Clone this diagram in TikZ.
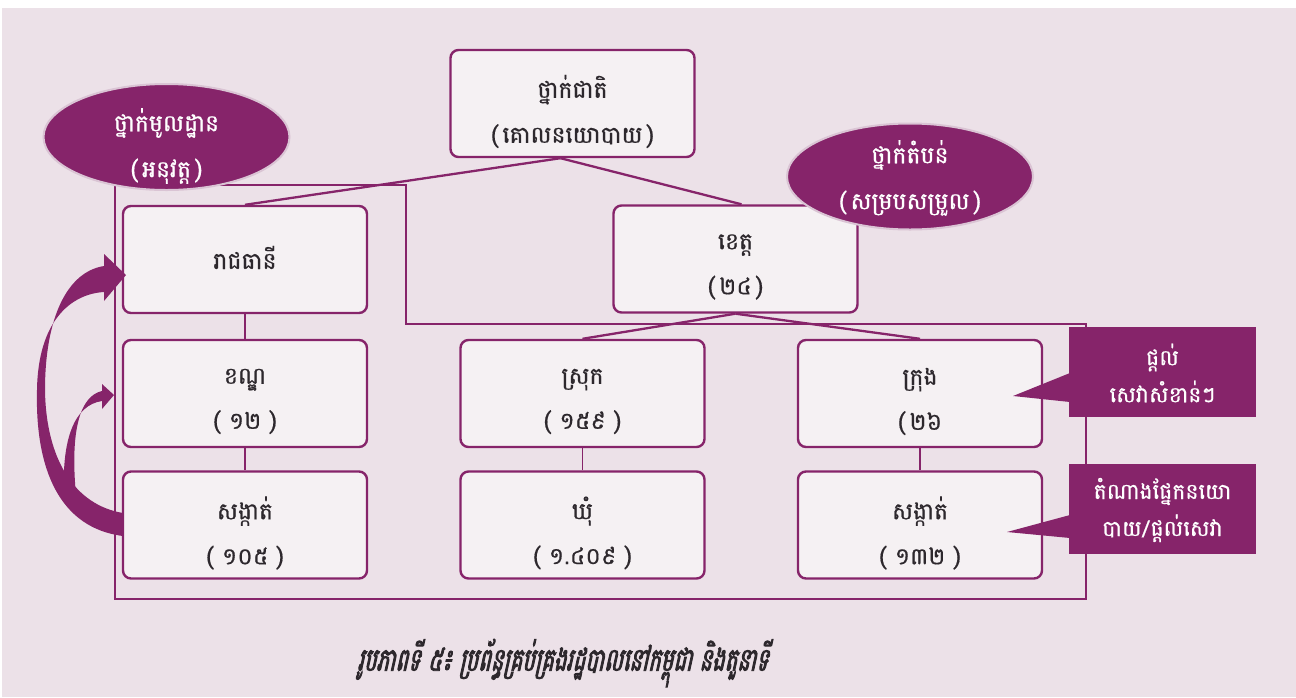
\documentclass[tikz,border=0pt]{standalone}
\usepackage{fontspec}
\newfontfamily\khm[Script=Khmer,FakeBold=0.6]{Battambang}
\newfontfamily\khmcap[Script=Khmer,FakeSlant=0.22,FakeBold=2.8,FakeStretch=0.66]{Battambang}
\usetikzlibrary{shapes.geometric}
\definecolor{bg}{RGB}{236,225,232}
\definecolor{pur}{RGB}{134,36,106}
\definecolor{boxfill}{RGB}{245,241,243}
\definecolor{ellrim}{RGB}{218,196,212}
\definecolor{txt}{RGB}{45,40,45}
\tikzset{
  orgbox/.style={draw=pur, line width=2.4pt, fill=boxfill, rounded corners=8pt,
    minimum width=244pt, minimum height=107pt, inner sep=0pt},
  boxtext/.style={align=center, inner sep=0pt, text=txt, font={\khm\fontsize{23.5}{45}\selectfont}},
  conn/.style={draw=pur, line width=2.3pt},
  thinconn/.style={draw=pur, line width=1.6pt},
  frameline/.style={draw=pur, line width=2pt},
  lvl/.style={ellipse, fill=pur, draw=ellrim, line width=2pt, minimum width=246pt, minimum height=106pt, inner sep=0pt},
  lvltext/.style={text=white, align=center, inner sep=0pt, font={\khm\fontsize{23.5}{46}\selectfont}},
  calloutbox/.style={fill=pur, minimum width=187pt, minimum height=90pt, inner sep=0pt},
  callouttext/.style={text=white, align=center, inner sep=0pt, font={\khm\fontsize{22}{37}\selectfont}},
}
\begin{document}
\begin{tikzpicture}[x=1pt,y=-1pt]
\useasboundingbox (0,0) rectangle (1296,697);
\fill[white] (0,0) rectangle (1296,697);
\fill[bg] (2,8) rectangle (1296,697);
% frame of the local level
\draw[frameline] (115,185) -- (406,185) -- (406,324) -- (1086,324) -- (1086,599) -- (115,599) -- cycle;
% boxes
\node[orgbox] (nat) at (572.5,103.5) {};
\node[orgbox] (raj) at (245,259.5) {};
\node[orgbox] (khet) at (735.5,259) {};
\node[orgbox] (khan) at (245,393.5) {};
\node[orgbox] (sangL) at (245,525) {};
\node[orgbox] (srok) at (582.5,393.5) {};
\node[orgbox] (khum) at (582.5,525) {};
\node[orgbox] (krong) at (920,393.5) {};
\node[orgbox] (sangR) at (920,525) {};
% box texts
\node[boxtext] (natt) at ([yshift=-8pt]nat.center) {ថ្នាក់ជាតិ\\(\,គោលនយោបាយ\,)};
\node[boxtext] (rajt) at ([yshift=2pt]raj.center) {រាជធានី};
\node[boxtext] (khett) at ([yshift=-8pt]khet.center) {ខេត្ត\\(\,២៤\,)};
\node[boxtext] (khant) at ([yshift=-8pt]khan.center) {ខណ្ឌ\\( ១២ )};
\node[boxtext] (sangLt) at ([yshift=-8pt]sangL.center) {សង្កាត់\\( ១០៥ )};
\node[boxtext] (srokt) at ([yshift=-8pt]srok.center) {ស្រុក\\( ១៥៩ )};
\node[boxtext] (khumt) at ([yshift=-8pt]khum.center) {ឃុំ\\( ១.៤០៩ )};
\node[boxtext] (krongt) at ([yshift=-8pt]krong.center) {ក្រុង\\(\,២៦};
\node[boxtext] (sangRt) at ([yshift=-8pt]sangR.center) {សង្កាត់\\( ១៣២ )};
% connectors
\draw[conn] ([xshift=-12pt]nat.south) -- (raj.north);
\draw[conn] ([xshift=-12pt]nat.south) -- ([xshift=6pt]khet.north);
\draw[conn] (khet.south) -- (srok.north);
\draw[conn] (khet.south) -- (krong.north);
\draw[thinconn] (raj.south) -- (khan.north);
\draw[thinconn] (khan.south) -- (sangL.north);
\draw[thinconn] (srok.south) -- (khum.north);
\draw[thinconn] (krong.south) -- (sangR.north);
% curved arrows
\fill[pur] (123,536) .. controls (60,528) and (35,470) .. (37,390)
  .. controls (38,322) and (70,294) .. (104,292) -- (104,301) -- (126,275) -- (104,254) -- (104,266)
  .. controls (66,272) and (45,320) .. (45,390)
  .. controls (46,460) and (75,505) .. (123,513) -- cycle;
\fill[pur] (64,492) .. controls (62,440) and (74,405) .. (102,401) -- (102,409) -- (114,395) -- (102,384) -- (102,391)
  .. controls (80,396) and (70,430) .. (76,495) -- cycle;
% level ellipses
\node[lvl] (local) at (166.5,137) {};
\node[lvltext] (localt) at (166.5,146) {ថ្នាក់មូលដ្ឋាន\\(\,អនុវត្ត\,)};
\node[lvl] (region) at (910,176.5) {};
\node[lvltext] (regiont) at (910,178) {ថ្នាក់តំបន់\\(\,សម្របសម្រួល\,)};
% callouts
\node[calloutbox] (c1) at (1162.5,372) {};
\coordinate (c1tip) at (1013,396);
\fill[pur] (1070,373) -- (c1tip) -- (1070,402) -- cycle;
\node[callouttext] (c1t) at ([yshift=-1pt]c1.center) {ផ្តល់\\សេវាសំខាន់ៗ};
\node[calloutbox] (c2) at (1162.5,509) {};
\coordinate (c2tip) at (1007,532);
\fill[pur] (1070,515) -- (c2tip) -- (1070,538) -- cycle;
\node[callouttext] (c2t) at ([yshift=-1pt]c2.center) {តំណាងផ្នែកនយោ\\បាយ/ផ្តល់សេវា};
% caption
\node[text=txt, inner sep=0pt, font={\khmcap\fontsize{32}{36}\selectfont}] (cap) at (563,663) {រូបភាពទី ៥៖ ប្រព័ន្ធគ្រប់គ្រងរដ្ឋបាលនៅកម្ពុជា និងតួនាទី};
\end{tikzpicture}
\end{document}
